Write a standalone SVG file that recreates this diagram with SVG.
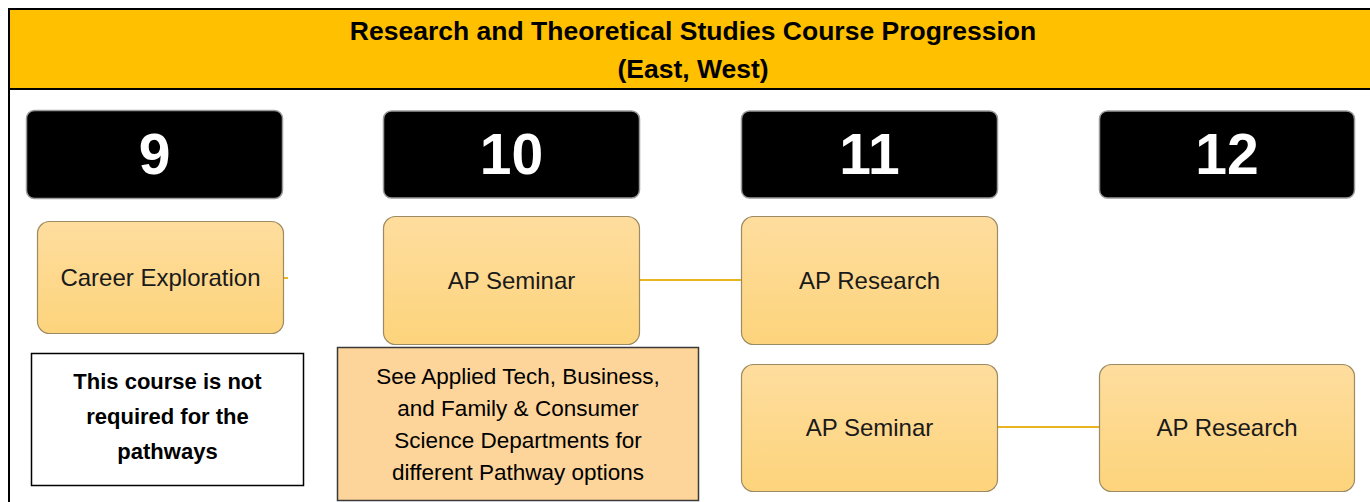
<svg xmlns="http://www.w3.org/2000/svg" width="1370" height="502" viewBox="0 0 1370 502">
  <defs>
    <linearGradient id="gold" x1="0" y1="0" x2="0" y2="1">
      <stop offset="0" stop-color="#FEDD9E"/>
      <stop offset="1" stop-color="#FDD47C"/>
    </linearGradient>
    <style>
      .grade rect { fill: #000; stroke: #9a9a9a; stroke-width: 1.5; }
      .grade text { font-family: "Liberation Sans", Arial, sans-serif; font-weight: bold; font-size: 57px; fill: #fff; text-anchor: middle; }
      .course rect { fill: url(#gold); stroke: #9c8a62; stroke-width: 1.2; }
      .course text { font-family: "Liberation Sans", Arial, sans-serif; font-size: 24px; fill: #1a1a1a; text-anchor: middle; }
      .note text { font-family: "Liberation Sans", Arial, sans-serif; text-anchor: middle; fill: #000; }
      .conn line { stroke: #E8B420; stroke-width: 2; }
    </style>
  </defs>
  <rect x="0" y="0" width="1370" height="502" fill="#fff"/>

  <g id="header">
    <rect x="9" y="9" width="1363" height="80" fill="#FFC000" stroke="#000" stroke-width="2"/>
    <text x="693" y="40" font-family="Liberation Sans, Arial, sans-serif" font-weight="bold" font-size="26.5" text-anchor="middle" fill="#000">Research and Theoretical Studies Course Progression</text>
    <text x="693" y="78" font-family="Liberation Sans, Arial, sans-serif" font-weight="bold" font-size="26.5" text-anchor="middle" fill="#000">(East, West)</text>
  </g>
  <line x1="9" y1="89" x2="9" y2="502" stroke="#000" stroke-width="2"/>

  <g id="grade-9" class="grade">
    <rect x="26.5" y="110.5" width="256" height="88" rx="8"/>
    <text x="154.5" y="174">9</text>
  </g>
  <g id="grade-10" class="grade">
    <rect x="383.5" y="111" width="256" height="87" rx="8"/>
    <text x="511.5" y="174">10</text>
  </g>
  <g id="grade-11" class="grade">
    <rect x="741.5" y="111" width="256" height="87" rx="8"/>
    <text x="869.5" y="174">11</text>
  </g>
  <g id="grade-12" class="grade">
    <rect x="1099.5" y="111" width="255" height="87" rx="8"/>
    <text x="1227" y="174">12</text>
  </g>

  <g id="connectors" class="conn">
    <line x1="284" y1="278" x2="288" y2="278"/>
    <line x1="639" y1="280" x2="741" y2="280"/>
    <line x1="998" y1="427" x2="1099" y2="427"/>
  </g>

  <g id="career-exploration" class="course">
    <rect x="37.5" y="221.5" width="246" height="112" rx="12"/>
    <text x="160.5" y="286">Career Exploration</text>
  </g>
  <g id="ap-seminar-10" class="course">
    <rect x="383.5" y="216.5" width="256" height="128" rx="12"/>
    <text x="511.5" y="289">AP Seminar</text>
  </g>
  <g id="ap-research-11" class="course">
    <rect x="741.5" y="216.5" width="256" height="128" rx="12"/>
    <text x="869.5" y="289">AP Research</text>
  </g>
  <g id="ap-seminar-11" class="course">
    <rect x="741.5" y="364.5" width="256" height="127" rx="12"/>
    <text x="869.5" y="436">AP Seminar</text>
  </g>
  <g id="ap-research-12" class="course">
    <rect x="1099.5" y="364.5" width="255" height="127" rx="12"/>
    <text x="1227" y="436">AP Research</text>
  </g>

  <g id="note-not-required" class="note">
    <rect x="31.5" y="353.5" width="272" height="132" fill="#fff" stroke="#000" stroke-width="1.5"/>
    <text x="167.5" y="389" font-size="22" font-weight="bold">This course is not</text>
    <text x="167.5" y="424" font-size="22" font-weight="bold">required for the</text>
    <text x="167.5" y="459" font-size="22" font-weight="bold">pathways</text>
  </g>

  <g id="note-pathways" class="note">
    <rect x="337.5" y="347.5" width="361" height="153" fill="#FDD59A" stroke="#3a3a3a" stroke-width="1.5"/>
    <text x="518" y="384" font-size="22.5" fill="#1a1a1a">See Applied Tech, Business,</text>
    <text x="518" y="416" font-size="22.5" fill="#1a1a1a">and Family &amp; Consumer</text>
    <text x="518" y="448" font-size="22.5" fill="#1a1a1a">Science Departments for</text>
    <text x="518" y="480" font-size="22.5" fill="#1a1a1a">different Pathway options</text>
  </g>
</svg>
